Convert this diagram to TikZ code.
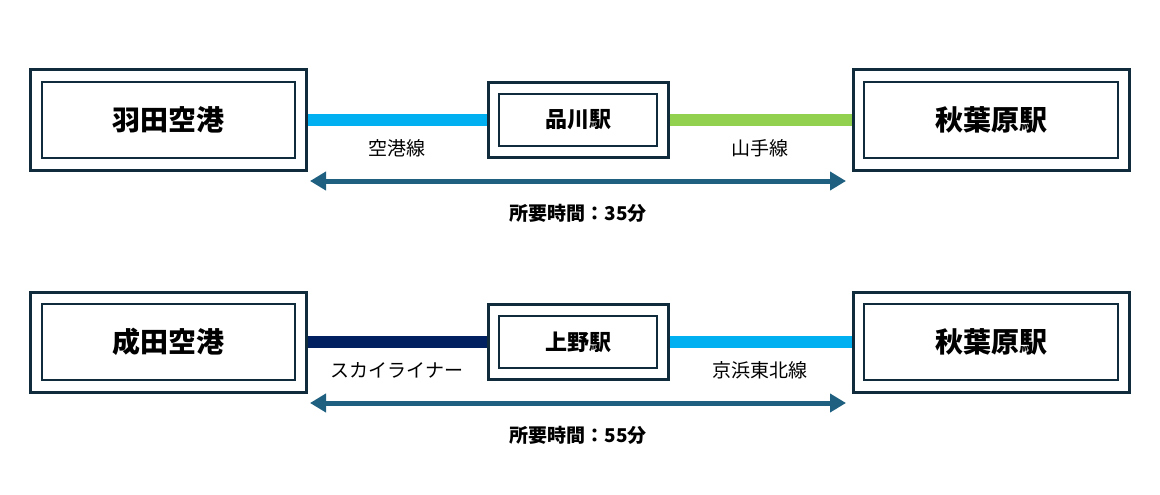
\documentclass[tikz,border=0pt]{standalone}
\usepackage{fontspec}
\setmainfont{Noto Sans CJK JP}
\usetikzlibrary{arrows.meta}
\definecolor{bd}{HTML}{0F2B3C}
\definecolor{arr}{HTML}{1F6080}
\definecolor{lblue}{HTML}{00B0F0}
\definecolor{lgreen}{HTML}{92D050}
\definecolor{navy}{HTML}{002060}
\tikzset{
 outerbox/.style={draw=bd,line width=3pt,minimum width=#1,inner sep=0pt},
 bigbox/.style={outerbox=276pt,minimum height=100pt,font=\fontsize{28}{32}\selectfont\bfseries},
 midbox/.style={outerbox=180pt,minimum height=75pt,font=\fontsize{22}{26}\selectfont\bfseries},
 inb/.style={draw=bd,line width=2pt},
 rail/.style={line width=12pt},
 lbl/.style={font=\fontsize{19}{22}\selectfont},
 span/.style={draw=arr,line width=5pt,{Triangle[length=16pt,width=18pt]}-{Triangle[length=16pt,width=18pt]}},
}
\begin{document}
\begin{tikzpicture}[x=1pt,y=-1pt]
\useasboundingbox (0,0) rectangle (1160,495);
\foreach \dy/\A/\B/\C/\D/\E/\cl/\cr/\tm/\n in {0/羽田空港/品川駅/空港線/山手線/a/lblue/lgreen/35/t, 222/成田空港/上野駅/スカイライナー/京浜東北線/b/navy/lblue/55/u}{
 \node[bigbox] (\n L) at (168,120+\dy) {};
 \draw[inb] (42,82+\dy) rectangle (295,158+\dy);
 \node[font=\fontsize{28}{32}\selectfont\bfseries] (\n Lt) at (168,120+\dy) {\A};
 \node[midbox] (\n M) at (578,120+\dy) {};
 \draw[inb] (499,94+\dy) rectangle (657,146+\dy);
 \node[font=\fontsize{22}{26}\selectfont\bfseries] (\n Mt) at (578,120+\dy) {\B};
 \node[bigbox] (\n R) at (991,120+\dy) {};
 \draw[inb] (864,82+\dy) rectangle (1118,158+\dy);
 \node[font=\fontsize{28}{32}\selectfont\bfseries] (\n Rt) at (991,120+\dy) {秋葉原駅};
 \draw[rail,draw=\cl] (\n L.east) -- (\n M.west);
 \draw[rail,draw=\cr] (\n M.east) -- (\n R.west);
 \node[lbl] (\n l1) at (397,148+\dy) {\C};
 \node[lbl] (\n l2) at (760,148+\dy) {\D};
 \coordinate (\n a1) at (310,181+\dy);
 \coordinate (\n a2) at (846,181+\dy);
 \draw[span] (\n a1) -- (\n a2);
 \node[lbl,font=\fontsize{19}{22}\selectfont\bfseries] (\n tt) at (578,213+\dy) {所要時間：\tm 分};
}
\end{tikzpicture}
\end{document}
